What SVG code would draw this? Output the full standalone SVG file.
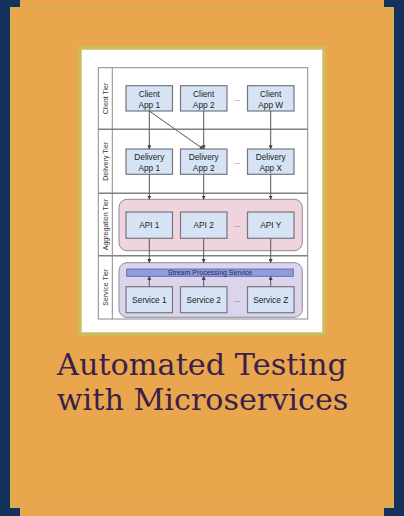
<svg xmlns="http://www.w3.org/2000/svg" width="404" height="516" viewBox="0 0 404 516">
<defs>
<marker id="ah" viewBox="0 0 6 6" refX="5.5" refY="3" markerWidth="4" markerHeight="4" orient="auto" markerUnits="userSpaceOnUse">
<path d="M0,0 L6,3 L0,6 Z" fill="#444"/>
</marker>
</defs>
<style>
.box{fill:#d5e3f5;stroke:#77777d;stroke-width:1.2}
.bt{font-family:"Liberation Sans",Arial,sans-serif;font-size:8.3px;fill:#222;text-anchor:middle}
.tier{font-family:"Liberation Sans",Arial,sans-serif;font-size:7px;fill:#333;text-anchor:middle}
.dots{font-family:"Liberation Sans",Arial,sans-serif;font-size:8px;fill:#555;text-anchor:middle}
.grid{stroke:#8a8a8a;stroke-width:1;fill:none}
.div{stroke:#808080;stroke-width:1.5}
.con{stroke:#555;stroke-width:1;fill:none;marker-end:url(#ah)}
.title{font-family:"DejaVu Serif","Liberation Serif",serif;font-size:29px;fill:#3a1f4c;text-anchor:middle}
</style>
<rect width="404" height="516" fill="#13335c"/>
<g id="panel">
<rect x="10" y="7" width="384" height="501" fill="#eaa64d"/>
<rect x="20" y="0" width="364" height="516" fill="#eaa64d"/>
<rect x="11.5" y="8.5" width="381" height="498" fill="none" stroke="#cbb65a" stroke-width="2" opacity="0.6"/>
</g>
<g id="diagram-card">
<rect x="80" y="48" width="244" height="286" fill="#ffffff" stroke="#cdbd62" stroke-width="3.5"/>
</g>
<g id="grid">
<rect class="grid" x="98.3" y="67.7" width="209.4" height="251.3"/>
<line class="grid" x1="112.3" y1="67.7" x2="112.3" y2="319"/>
<line class="div" x1="98.3" y1="129.3" x2="307.7" y2="129.3"/>
<line class="div" x1="98.3" y1="193.3" x2="307.7" y2="193.3"/>
<line class="div" x1="98.3" y1="255.7" x2="307.7" y2="255.7"/>
</g>
<g id="tier-labels">
<text class="tier" transform="translate(107.6,98.5) rotate(-90)">Client Tier</text>
<text class="tier" transform="translate(107.6,161.3) rotate(-90)">Delivery Tier</text>
<text class="tier" transform="translate(107.6,224.5) rotate(-90)">Aggregation Tier</text>
<text class="tier" transform="translate(107.6,287.3) rotate(-90)">Service Tier</text>
</g>
<g id="aggregation-group">
<rect x="119" y="199.3" width="183.3" height="51.4" rx="8" fill="#efd3dd" stroke="#8c8c96" stroke-width="1"/>
</g>
<g id="service-group">
<rect x="119" y="262.7" width="183.3" height="54.6" rx="8" fill="#dad5ec" stroke="#8c8c96" stroke-width="1"/>
</g>
<g id="client-app-1"><rect class="box" x="126" y="85.7" width="46.5" height="25.3"/><text class="bt" x="149.3" y="96.8">Client</text><text class="bt" x="149.3" y="107.6">App 1</text></g>
<g id="client-app-2"><rect class="box" x="180.5" y="85.7" width="46.5" height="25.3"/><text class="bt" x="203.7" y="96.8">Client</text><text class="bt" x="203.7" y="107.6">App 2</text></g>
<g id="client-dots"><text class="dots" x="237" y="100.5">...</text></g>
<g id="client-app-w"><rect class="box" x="247.5" y="85.7" width="46.5" height="25.3"/><text class="bt" x="270.7" y="96.8">Client</text><text class="bt" x="270.7" y="107.6">App W</text></g>
<g id="delivery-app-1"><rect class="box" x="126" y="149" width="46.5" height="25.3"/><text class="bt" x="149.3" y="160.1">Delivery</text><text class="bt" x="149.3" y="170.9">App 1</text></g>
<g id="delivery-app-2"><rect class="box" x="180.5" y="149" width="46.5" height="25.3"/><text class="bt" x="203.7" y="160.1">Delivery</text><text class="bt" x="203.7" y="170.9">App 2</text></g>
<g id="delivery-dots"><text class="dots" x="237" y="163.8">...</text></g>
<g id="delivery-app-x"><rect class="box" x="247.5" y="149" width="46.5" height="25.3"/><text class="bt" x="270.7" y="160.1">Delivery</text><text class="bt" x="270.7" y="170.9">App X</text></g>
<g id="api-1"><rect class="box" x="126" y="212" width="46.5" height="26.3"/><text class="bt" x="149.3" y="228">API 1</text></g>
<g id="api-2"><rect class="box" x="180.5" y="212" width="46.5" height="26.3"/><text class="bt" x="203.7" y="228">API 2</text></g>
<g id="api-dots"><text class="dots" x="237" y="227">...</text></g>
<g id="api-y"><rect class="box" x="247.5" y="212" width="46.5" height="26.3"/><text class="bt" x="270.7" y="228">API Y</text></g>
<g id="stream-processing-service"><rect x="126.7" y="269" width="166.6" height="7.3" fill="#8d9ce0" stroke="#5a6296" stroke-width="0.8"/><text x="210" y="275.3" font-family="Liberation Sans, Arial, sans-serif" font-size="7px" fill="#1b2a60" text-anchor="middle">Stream Processing Service</text></g>
<g id="service-1"><rect class="box" x="126" y="286.7" width="46.5" height="26"/><text class="bt" x="149.3" y="302.7">Service 1</text></g>
<g id="service-2"><rect class="box" x="180.5" y="286.7" width="46.5" height="26"/><text class="bt" x="203.7" y="302.7">Service 2</text></g>
<g id="service-dots"><text class="dots" x="237" y="302">...</text></g>
<g id="service-z"><rect class="box" x="247.5" y="286.7" width="46.5" height="26"/><text class="bt" x="270.7" y="302.7">Service Z</text></g>
<g id="connectors">
<line class="con" x1="149.3" y1="111" x2="149.3" y2="149"/>
<line class="con" x1="149.3" y1="111" x2="203.2" y2="149"/>
<line class="con" x1="203.7" y1="111" x2="203.7" y2="149"/>
<line class="con" x1="270.7" y1="111" x2="270.7" y2="149"/>
<line class="con" x1="149.3" y1="174.3" x2="149.3" y2="199.3"/>
<line class="con" x1="203.7" y1="174.3" x2="203.7" y2="199.3"/>
<line class="con" x1="270.7" y1="174.3" x2="270.7" y2="199.3"/>
<line class="con" x1="149.3" y1="238.3" x2="149.3" y2="262.7"/>
<line class="con" x1="203.7" y1="238.3" x2="203.7" y2="262.7"/>
<line class="con" x1="270.7" y1="238.3" x2="270.7" y2="262.7"/>
<line class="con" x1="149.3" y1="286.7" x2="149.3" y2="276.3"/>
<line class="con" x1="203.7" y1="286.7" x2="203.7" y2="276.3"/>
<line class="con" x1="270.7" y1="286.7" x2="270.7" y2="276.3"/>
</g>
<g id="title">
<text class="title" x="202" y="375" textLength="290" lengthAdjust="spacingAndGlyphs">Automated Testing</text>
<text class="title" x="202.5" y="410" textLength="291.5" lengthAdjust="spacingAndGlyphs">with Microservices</text>
</g>
</svg>
